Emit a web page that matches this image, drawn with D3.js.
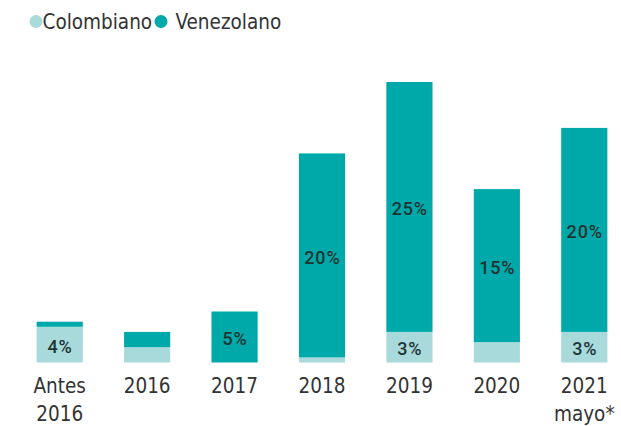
<!DOCTYPE html>
<html><head><meta charset="utf-8">
<script src="https://cdn.jsdelivr.net/npm/d3@7"></script>
<style>body{margin:0;background:#fff}svg{display:block}</style>
</head><body>
<script>
const categories = ["Antes 2016","2016","2017","2018","2019","2020","2021 mayo*"];
const catLines = [["Antes","2016"],["2016"],["2017"],["2018"],["2019"],["2020"],["2021","mayo*"]];
const colombiano = [3.5,1.5,0,0.5,3,2,3];
const venezolano = [0.5,1.5,5,20,24.5,15,20];
const colLabels = ["4%","","","","3%","","3%"];
const venLabels = ["","","5%","20%","25%","15%","20%"];
const seriesNames = ["Colombiano","Venezolano"];
const colors = ["#a8dadc","#00a9a9"];

const W=621,H=426;
const svg=d3.select("body").append("svg").attr("width",W).attr("height",H);
const font="'DejaVu Sans Condensed',Roboto,sans-serif";
const lblFont="Roboto,sans-serif";

const x=d3.scaleBand().domain(categories).range([16,628]).paddingInner(0.472).paddingOuter(0.236);
const y=d3.scaleLinear().domain([0,28]).range([362.5,362.5-28*10.2]);

const data=categories.map((c,i)=>({c,col:colombiano[i],ven:venezolano[i],cl:colLabels[i],vl:venLabels[i]}));

const g=svg.append("g");
g.selectAll(".col").data(data).join("rect")
 .attr("x",d=>x(d.c)).attr("width",x.bandwidth())
 .attr("y",d=>y(d.col)).attr("height",d=>y(0)-y(d.col)).attr("fill",colors[0]);
g.selectAll(".ven").data(data).join("rect")
 .attr("x",d=>x(d.c)).attr("width",x.bandwidth())
 .attr("y",d=>y(d.col+d.ven)).attr("height",d=>y(d.col)-y(d.col+d.ven)).attr("fill",colors[1]);

function lbl(sel){
  sel.attr("dy","0.36em").attr("text-anchor","middle")
   .attr("font-family",lblFont).attr("font-size",18).attr("font-weight",500)
   .attr("letter-spacing","0.8px").attr("fill","#1e3434");
}
g.selectAll(".cl").data(data.filter(d=>d.cl)).join("text")
 .attr("x",d=>x(d.c)+x.bandwidth()/2+0.4).attr("y",d=>(y(0)+y(d.col))/2+1.5)
 .call(lbl).text(d=>d.cl);
g.selectAll(".vl").data(data.filter(d=>d.vl)).join("text")
 .attr("x",d=>x(d.c)+x.bandwidth()/2+0.4).attr("y",d=>(y(d.col)+y(d.col+d.ven))/2+2)
 .call(lbl).text(d=>d.vl);

const ax=g.append("g").attr("transform","translate(0,362.5)")
 .call(d3.axisBottom(x).tickSize(0).tickFormat(""));
ax.select(".domain").remove();
ax.selectAll(".tick").each(function(c,i){
  const t=d3.select(this).append("text").attr("text-anchor","middle")
   .attr("font-family",font).attr("font-size",20.5).attr("fill","#333");
  catLines[i].forEach((l,j)=>t.append("tspan").attr("x",0).attr("y",30+j*28).text(l));
});

// legend
const leg=svg.append("g");
const lx=[36,161];
seriesNames.forEach((n,i)=>{
  leg.append("circle").attr("cx",lx[i]).attr("cy",21.5).attr("r",6.5).attr("fill",colors[i]);
  leg.append("text").attr("x",lx[i]+6.5+(i?8:0)).attr("y",29).attr("font-family",font)
   .attr("font-size",20.5).attr("fill","#333").text(n);
});
</script>
</body></html>
